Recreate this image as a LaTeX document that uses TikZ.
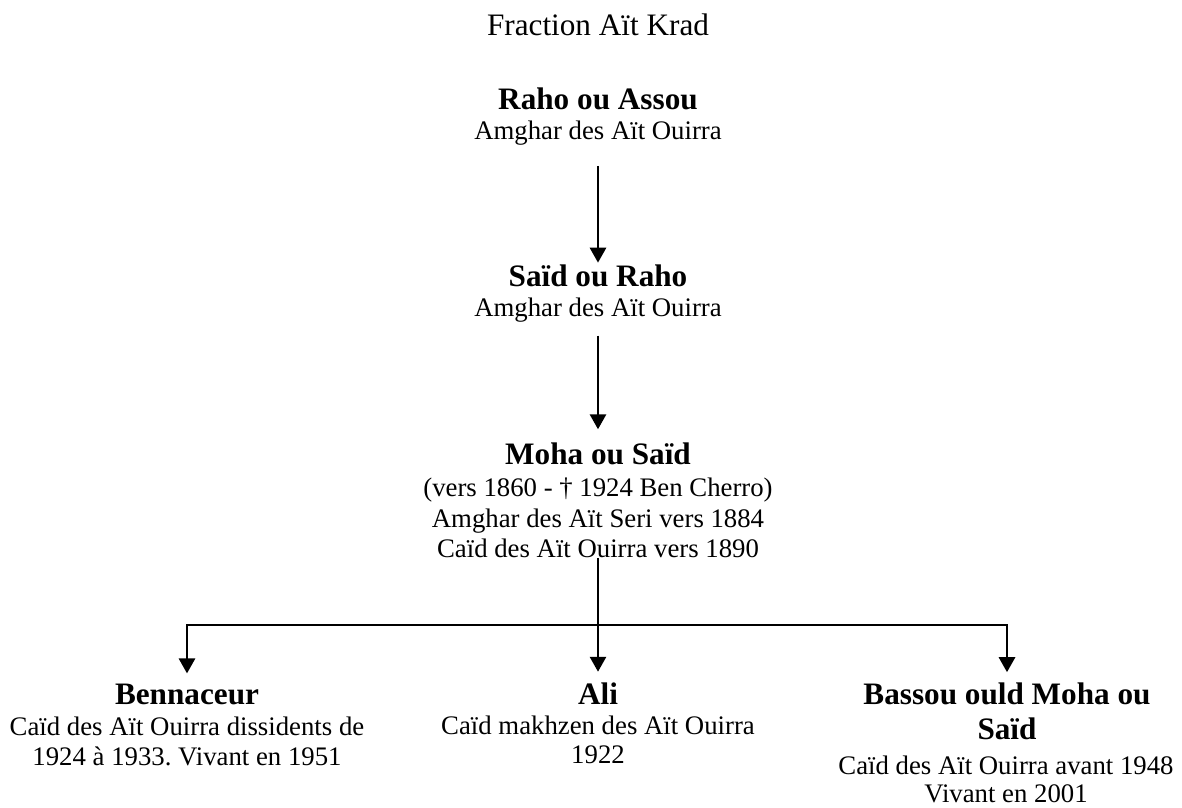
\documentclass[tikz,border=0pt]{standalone}
\usepackage{fontspec}
\setmainfont{Liberation Serif}
\usetikzlibrary{arrows.meta}
\frenchspacing
\begin{document}
\begin{tikzpicture}[x=0.44843pt,y=-0.44843pt,
  every node/.style={inner sep=0pt,outer sep=0pt,anchor=base},
  titletext/.style={font=\fontsize{14}{16.1}\selectfont},
  nametext/.style={font=\fontsize{14}{16.1}\selectfont\bfseries},
  bodytext/.style={font=\fontsize{12}{13.8}\selectfont},
  arr/.style={line width=1.15pt,-{Triangle[width=7.2pt,length=6.7pt]}},
  link/.style={line width=1.15pt}]
\useasboundingbox (0,0) rectangle (1182,808);
% title
\node[titletext] (title) at (598,36) {Fraction Aït Krad};
% Raho ou Assou
\node[nametext] (raho) at (598,110) {Raho ou Assou};
\node[bodytext] (raho1) at (598,140) {Amghar des Aït Ouirra};
% Saïd ou Raho
\node[nametext] (said) at (598,287) {Saïd ou Raho};
\node[bodytext] (said1) at (598,317) {Amghar des Aït Ouirra};
% Moha ou Saïd
\node[nametext] (moha) at (598,465) {Moha ou Saïd};
\node[bodytext] (moha1) at (598,497) {(vers 1860 - † 1924 Ben Cherro)};
\node[bodytext] (moha2) at (598,528) {Amghar des Aït Seri vers 1884};
\node[bodytext] (moha3) at (598,558) {Caïd des Aït Ouirra vers 1890};
% children
\node[nametext] (benn) at (187,705) {Bennaceur};
\node[bodytext] (benn1) at (187,736) {Caïd des Aït Ouirra dissidents de};
\node[bodytext] (benn2) at (187,766) {1924 à 1933. Vivant en 1951};
\node[nametext] (ali) at (598,705) {Ali};
\node[bodytext] (ali1) at (598,735) {Caïd makhzen des Aït Ouirra};
\node[bodytext] (ali2) at (598,764) {1922};
\node[nametext] (bassou) at (1007,705) {Bassou ould Moha ou};
\node[nametext] (bassou1) at (1007,740) {Saïd};
\node[bodytext] (bassou2) at (1006,775) {Caïd des Aït Ouirra avant 1948};
\node[bodytext] (bassou3) at (1006,803) {Vivant en 2001};
% connectors
\draw[arr,shorten <=9pt,shorten >=1.2pt] (raho1.south) -- (said.north);
\draw[arr,shorten <=5.8pt,shorten >=6.3pt] (said1.south) -- (moha.north);
\coordinate (fork) at (598,625);
\draw[arr,shorten >=5.2pt] (moha3.base) -- (ali.north);
\draw[arr,shorten >=5pt] (fork) -| (benn.north);
\draw[arr,shorten >=5pt] (fork) -| (bassou.north);
\end{tikzpicture}
\end{document}
